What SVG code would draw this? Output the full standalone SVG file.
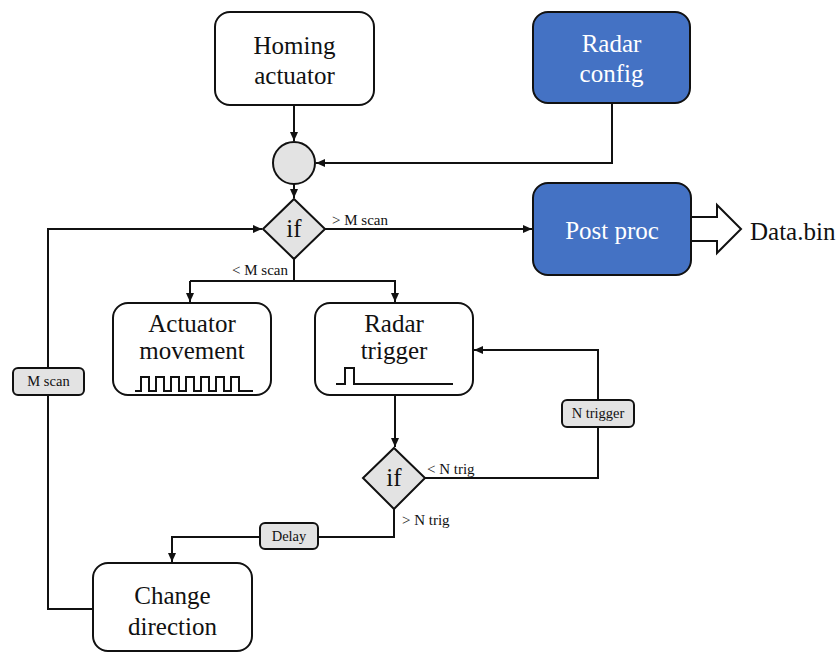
<svg xmlns="http://www.w3.org/2000/svg" width="840" height="653" viewBox="0 0 840 653">
<defs>
<marker id="ah" markerWidth="9" markerHeight="8" refX="9" refY="4" orient="auto" markerUnits="userSpaceOnUse">
<path d="M0,0 L9,4 L0,8 Z" fill="#111"/>
</marker>
<style>
.box{fill:#fff;stroke:#111;stroke-width:2}
.blue{fill:#4472C4;stroke:#111;stroke-width:2}
.gray{fill:#e3e3e3;stroke:#111;stroke-width:2}
.ln{fill:none;stroke:#111;stroke-width:2}
.arr{fill:none;stroke:#111;stroke-width:2;marker-end:url(#ah)}
text{font-family:'Liberation Serif','Times New Roman','DejaVu Serif',serif}
.t{font-size:25px;fill:#111;text-anchor:middle}
.tw{font-size:25px;fill:#fff;text-anchor:middle}
.s{font-size:15px;fill:#111}
.sm{font-size:14.5px;fill:#111;text-anchor:middle}
</style>
</defs>
<rect width="840" height="653" fill="#fff"/>
<g id="connectors">
<path class="arr" d="M294,105 V141"/>
<path class="arr" d="M612,103 V163 H316"/>
<path class="arr" d="M294,184 V198"/>
<path class="arr" d="M325,229 H532"/>
<path class="ln" d="M294,259 V281"/>
<path class="arr" d="M190,281 H395 V302"/>
<path class="arr" d="M190,281 V302"/>
<path class="arr" d="M395,395 V447"/>
<path class="arr" d="M425,478 H598 V350 H474"/>
<path class="arr" d="M394,509 V537 H172 V562"/>
<path class="arr" d="M93,609 H48 V229 H262"/>
<path fill="#fff" stroke="#111" stroke-width="2" d="M691,217 H717 V205 L741,229 L717,253 V241 H691"/>
<text class="s" x="332" y="225" font-family="Liberation Serif, serif">&gt; M scan</text>
<text class="s" x="232" y="275" font-family="Liberation Serif, serif">&lt; M scan</text>
<text class="s" x="427" y="474" font-family="Liberation Serif, serif">&lt; N trig</text>
<text class="s" x="402" y="525" font-family="Liberation Serif, serif">&gt; N trig</text>
</g>
<g id="homing"><rect class="box" x="215" y="12" width="159" height="93" rx="15"/><text class="t" x="294.5" y="54">Homing</text><text class="t" x="294.5" y="84">actuator</text></g>
<g id="radar-config"><rect class="blue" x="533" y="12" width="157" height="91" rx="15"/><text class="tw" x="611.5" y="52">Radar</text><text class="tw" x="611.5" y="82">config</text></g>
<g id="junction"><circle cx="294" cy="163" r="21" fill="#e3e3e3" stroke="#111" stroke-width="2"/></g>
<g id="if1"><path class="gray" d="M294,199 L325,229 L294,259 L263,229 Z"/><text class="t" x="294" y="237">if</text></g>
<g id="post-proc"><rect class="blue" x="533" y="183" width="158" height="92" rx="15"/><text class="tw" x="612" y="239">Post proc</text></g>
<g id="data-bin"><text class="t" x="750" y="240" style="text-anchor:start">Data.bin</text></g>
<g id="actuator-movement"><rect class="box" x="113" y="303" width="158" height="92" rx="15"/><text class="t" x="192" y="332">Actuator</text><text class="t" x="192" y="359">movement</text>
<path class="ln" d="M135,391 H141 V377 H149 V391 H156 V377 H164 V391 H171 V377 H179 V391 H186 V377 H194 V391 H201 V377 H209 V391 H216 V377 H224 V391 H231 V377 H239 V391 H253"/></g>
<g id="radar-trigger"><rect class="box" x="315" y="303" width="158" height="92" rx="15"/><text class="t" x="394" y="332">Radar</text><text class="t" x="394" y="359">trigger</text>
<path class="ln" d="M336,384 H345 V368 H354 V384 H453"/></g>
<g id="if2"><path class="gray" d="M394,448 L425,478 L394,509 L363,478 Z"/><text class="t" x="394" y="486">if</text></g>
<g id="n-trigger"><rect class="gray" x="562" y="400" width="72" height="27" rx="5"/><text class="sm" x="598" y="418">N trigger</text></g>
<g id="delay"><rect class="gray" x="260" y="523" width="58" height="26" rx="5"/><text class="sm" x="289" y="541">Delay</text></g>
<g id="m-scan"><rect class="gray" x="13" y="368" width="71" height="27" rx="5"/><text class="sm" x="48.5" y="386">M scan</text></g>
<g id="change-direction"><rect class="box" x="93" y="563" width="159" height="88" rx="15"/><text class="t" x="172.5" y="604">Change</text><text class="t" x="172.5" y="635">direction</text></g>
</svg>
